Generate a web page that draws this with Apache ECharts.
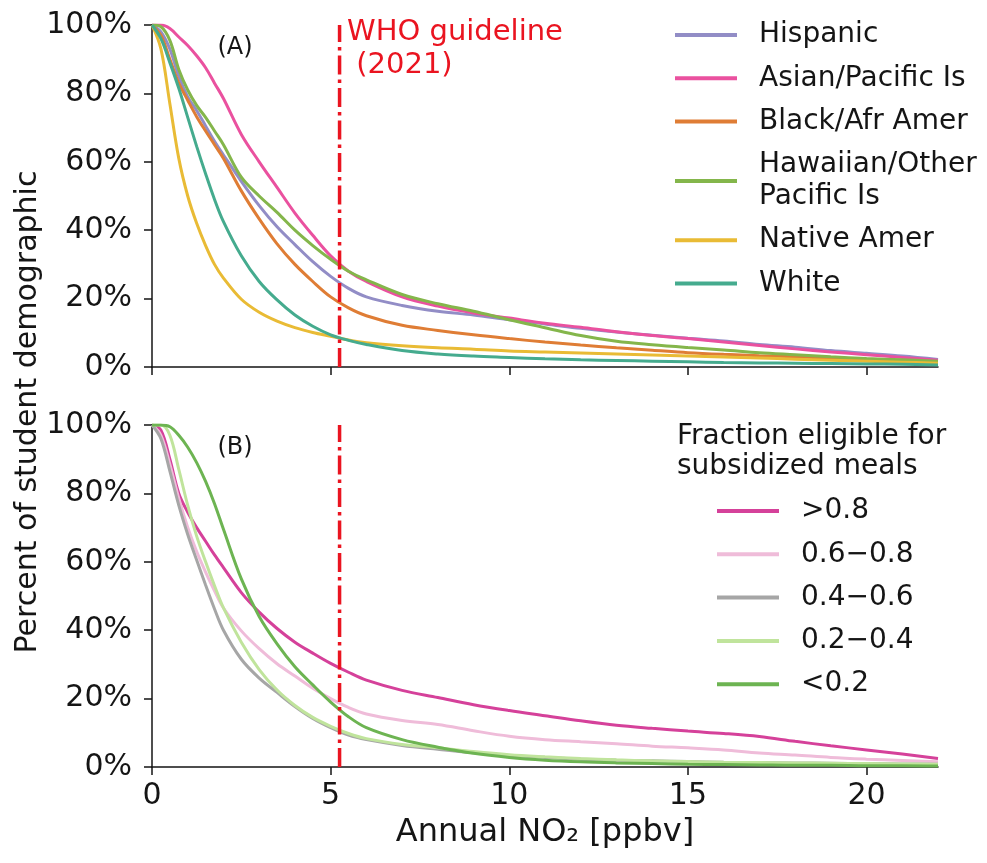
<!DOCTYPE html>
<html>
<head>
<meta charset="utf-8">
<script src="https://cdn.jsdelivr.net/npm/echarts@6/dist/echarts.min.js"></script>
<style>
  html, body { margin: 0; padding: 0; background: #fff; }
  #chart { width: 987px; height: 863px; }
</style>
</head>
<body>
<div id="chart"></div>
<script>
// Annual NO2 exposure (ppbv) at which the cumulative share of students is read
const NO2 = [0, 0.25, 0.5, 0.75, 1, 1.25, 1.5, 1.75, 2, 2.5, 3, 3.5, 4, 4.5, 5, 5.5, 6, 7, 8, 9, 10, 11, 12, 13, 14, 15, 16, 17, 18, 19, 20, 21, 22];

// Panel A: percent of each racial/ethnic group exposed above a given NO2 level
const hispanic = [100, 98, 93, 85, 79, 75, 70.5, 66, 62, 54.3, 47.2, 41, 35.8, 30.8, 26.5, 23, 20.5, 18, 16.3, 15.2, 13.8, 12.6, 11.3, 10.2, 9.3, 8.4, 7.6, 6.6, 5.8, 4.8, 4, 3.2, 2.2];
const asianPacific = [100, 100, 99, 96.5, 94, 91, 87.5, 83, 78.5, 68, 60, 52.5, 45, 38.5, 32.5, 28, 25, 20.5, 17.8, 15.8, 14.3, 12.8, 11.6, 10.3, 9.2, 8.3, 7.3, 6.3, 5.3, 4.4, 3.6, 2.8, 2];
const blackAfrAmer = [100, 97, 90, 83, 78, 73.2, 69, 65, 61, 51.5, 43.3, 36, 30, 25, 20.5, 17.3, 15, 12.2, 10.7, 9.4, 8.3, 7.3, 6.4, 5.6, 4.9, 4.2, 3.7, 3.3, 3, 2.6, 2.2, 1.8, 1.4];
const hawaiianPacific = [100, 99.5, 95.5, 87, 81, 76.5, 73, 69, 65, 55.5, 50, 45.2, 40, 35.5, 31.5, 28, 25.5, 21.2, 18.5, 16.3, 13.8, 11.5, 9.2, 7.5, 6.5, 5.7, 5, 4.2, 3.6, 3, 2.5, 2.1, 1.7];
const nativeAmer = [100, 93, 77, 61, 50, 42, 35.5, 30, 26, 19.8, 16, 13.4, 11.5, 10.1, 9, 7.9, 7.1, 6.2, 5.6, 5.2, 4.7, 4.4, 4.1, 3.8, 3.5, 3.2, 2.9, 2.6, 2.3, 2, 1.7, 1.4, 1.1];
const white = [100, 96, 89, 81.5, 73, 64.5, 56.5, 49, 42.5, 32.5, 25, 19.6, 15.2, 11.9, 9.4, 7.8, 6.6, 4.8, 3.8, 3.2, 2.8, 2.4, 2.1, 1.9, 1.7, 1.5, 1.3, 1.2, 1.1, 1, 0.9, 0.8, 0.6];

// Panel B: by fraction of students eligible for subsidized meals
const meals80up = [100, 98.5, 90, 80, 74.5, 70, 66, 62, 58.3, 51, 45.3, 40.5, 36.5, 33.3, 30.3, 27.7, 25.4, 22.4, 20.3, 18.2, 16.5, 15, 13.5, 12.2, 11.3, 10.5, 9.8, 8.9, 7.5, 6.2, 5, 3.8, 2.5];
const meals60to80 = [100, 97, 88.5, 78.5, 70, 63, 57, 51.5, 46.5, 39.8, 34.6, 30.2, 26.6, 23, 20, 17.4, 15.5, 13.6, 12.4, 10.6, 9, 8, 7.4, 6.8, 6.1, 5.6, 5, 4.1, 3.5, 2.8, 2.3, 1.9, 1.5];
const meals40to60 = [100, 96, 86.5, 76.5, 68, 60.5, 53.2, 46.2, 40, 31.5, 26, 21.8, 17.7, 14.2, 11.5, 9.3, 8, 6.3, 5.2, 4.2, 3.4, 2.8, 2.3, 2, 1.8, 1.6, 1.4, 1.3, 1.2, 1.1, 1, 0.9, 0.8];
const meals20to40 = [100, 100, 97, 87, 76.5, 67.5, 60, 53, 46.5, 36.5, 28.5, 22.5, 18, 14.5, 11.9, 9.8, 8.3, 6.6, 5.6, 4.5, 3.6, 3, 2.5, 2.1, 1.8, 1.6, 1.4, 1.3, 1.2, 1.1, 1, 0.9, 0.8];
const mealsUnder20 = [100, 100, 99.5, 97, 93.5, 89, 83.5, 77, 69.5, 55, 44, 36, 29.3, 24, 19, 14.7, 11.5, 8, 5.8, 4, 2.8, 2, 1.5, 1.2, 1, 0.8, 0.7, 0.6, 0.5, 0.5, 0.4, 0.4, 0.3];

// WHO 2021 annual NO2 guideline (10 ug/m3) expressed in ppbv
const WHO_GUIDELINE = 5.25;

const X_TICKS = [0, 5, 10, 15, 20];
const Y_TICKS = [0, 20, 40, 60, 80, 100];

const groupsA = [
  { name: 'Hispanic', values: hispanic, color: '#928dc6' },
  { name: 'Asian/Pacific Is', values: asianPacific, color: '#ea519f' },
  { name: 'Black/Afr Amer', values: blackAfrAmer, color: '#df7d35' },
  { name: 'Hawaiian/Other\nPacific Is', values: hawaiianPacific, color: '#84b64b' },
  { name: 'Native Amer', values: nativeAmer, color: '#e9bb35' },
  { name: 'White', values: white, color: '#45ab8e' }
];
const groupsB = [
  { name: '>0.8', values: meals80up, color: '#d5419a' },
  { name: '0.6\u22120.8', values: meals60to80, color: '#efbcd9' },
  { name: '0.4\u22120.6', values: meals40to60, color: '#a6a6a6' },
  { name: '0.2\u22120.4', values: meals20to40, color: '#c0e49c' },
  { name: '<0.2', values: mealsUnder20, color: '#6db452' }
];

const FONT = '"DejaVu Sans", "Noto Sans", sans-serif';
const INK = '#151515';
const GUIDE_RED = '#ea1420';

function curve(g, idx) {
  return {
    name: g.name,
    type: 'line',
    xAxisIndex: idx,
    yAxisIndex: idx,
    data: NO2.map((x, i) => [x, g.values[i]]),
    showSymbol: false,
    symbol: 'none',
    smooth: 0.35,
    color: g.color,
    lineStyle: { color: g.color, width: 3 },
    emphasis: { disabled: true },
    animation: false,
    z: 3
  };
}

function guideline(idx) {
  return {
    name: 'WHO',
    type: 'line',
    xAxisIndex: idx,
    yAxisIndex: idx,
    data: [[WHO_GUIDELINE, 0], [WHO_GUIDELINE, 100]],
    showSymbol: false,
    symbol: 'none',
    silent: true,
    lineStyle: { color: GUIDE_RED, width: 3.5, type: [19, 5, 3.5, 5] },
    emphasis: { disabled: true },
    animation: false,
    z: 5
  };
}

function xAxis(idx, labels) {
  return {
    type: 'value',
    gridIndex: idx,
    min: 0,
    max: 22,
    interval: 5,
    axisLine: { show: true, onZero: false, lineStyle: { color: INK, width: 1.5 } },
    axisTick: { show: true, length: 8, lineStyle: { color: INK, width: 1.5 }, customValues: X_TICKS },
    axisLabel: {
      show: labels, customValues: X_TICKS, margin: 14,
      fontFamily: FONT, fontSize: 30, color: INK
    },
    splitLine: { show: false },
    name: labels ? 'Annual NO\u2082 [ppbv]' : '',
    nameLocation: 'middle',
    nameGap: 50,
    nameTextStyle: { fontFamily: FONT, fontSize: 32, color: INK }
  };
}

function yAxis(idx) {
  return {
    type: 'value',
    gridIndex: idx,
    min: 0,
    max: 100,
    interval: 20,
    axisLine: { show: true, lineStyle: { color: INK, width: 1.5 } },
    axisTick: { show: true, length: 8, lineStyle: { color: INK, width: 1.5 }, customValues: Y_TICKS },
    axisLabel: {
      customValues: Y_TICKS, formatter: '{value}%', margin: 20,
      fontFamily: FONT, fontSize: 30, color: INK
    },
    splitLine: { show: false }
  };
}

const legendBase = {
  orient: 'vertical',
  icon: 'rect',
  itemWidth: 62,
  itemHeight: 4,
  padding: 0,
  selectedMode: false,
  textStyle: { fontFamily: FONT, fontSize: 28, color: INK, lineHeight: 32, padding: [0, 0, 0, 17] }
};

const chart = echarts.init(document.getElementById('chart'), null, { renderer: 'canvas' });
chart.setOption({
  backgroundColor: '#ffffff',
  animation: false,
  grid: [
    { left: 152, top: 25, width: 786, height: 342, containLabel: false },
    { left: 152, top: 425, width: 786, height: 342, containLabel: false }
  ],
  xAxis: [xAxis(0, false), xAxis(1, true)],
  yAxis: [yAxis(0), yAxis(1)],
  legend: [
    Object.assign({}, legendBase, {
      left: 675, top: 19, itemGap: 11.3,
      data: groupsA.map(g => g.name)
    }),
    Object.assign({}, legendBase, {
      left: 717, top: 495, itemGap: 11.3,
      data: groupsB.map(g => g.name)
    })
  ],
  series: [
    ...groupsA.map(g => curve(g, 0)),
    ...groupsB.map(g => curve(g, 1)),
    guideline(0),
    guideline(1)
  ],
  graphic: [
    {
      type: 'text', x: 28, y: 412, rotation: Math.PI / 2,
      style: {
        text: 'Percent of student demographic', font: '30px ' + FONT,
        fill: INK, align: 'center', verticalAlign: 'middle'
      }
    },
    {
      type: 'text', x: 235, y: 48,
      style: { text: '(A)', font: '24px ' + FONT, fill: INK, align: 'center', verticalAlign: 'middle' }
    },
    {
      type: 'text', x: 235, y: 448,
      style: { text: '(B)', font: '24px ' + FONT, fill: INK, align: 'center', verticalAlign: 'middle' }
    },
    {
      type: 'text', x: 347, y: 16,
      style: {
        text: 'WHO guideline\n (2021)', font: '29px ' + FONT, lineHeight: 33,
        fill: GUIDE_RED, align: 'left', verticalAlign: 'top'
      }
    },
    {
      type: 'text', x: 677, y: 422,
      style: {
        text: 'Fraction eligible for\nsubsidized meals', font: '28px ' + FONT, lineHeight: 30,
        fill: INK, align: 'left', verticalAlign: 'top'
      }
    }
  ]
});
</script>
</body>
</html>
